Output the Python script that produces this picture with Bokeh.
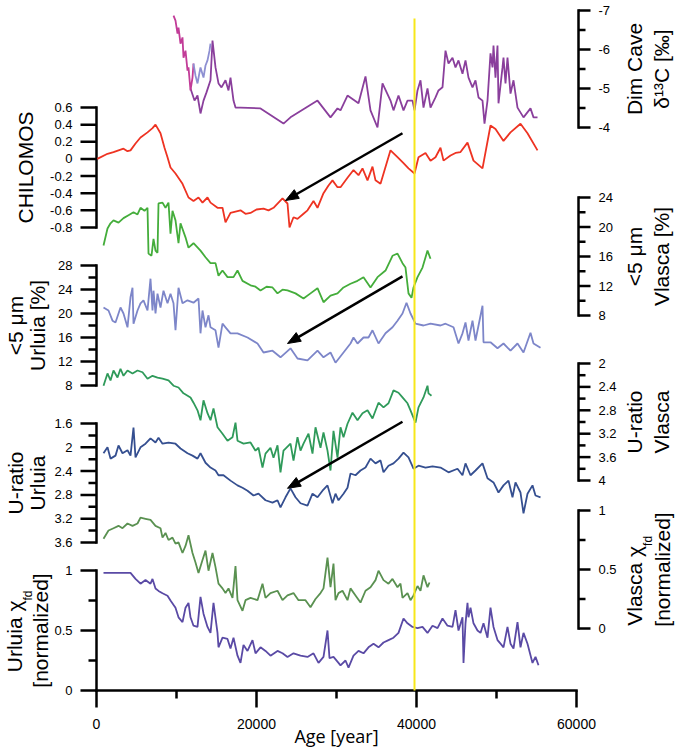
import math
from bokeh.plotting import figure
from bokeh.models import Range1d
from bokeh.core.properties import value
from bokeh.embed import file_html
from bokeh.resources import INLINE

# ---------------- data (age in years) ----------------
dim_mag_age = [9625, 9875, 10125, 10250, 10500, 10750, 10875, 11125, 11375, 11500, 11750, 12000, 12125]
dim_mag_val = [-6.87, -6.74, -6.41, -6.56, -6.15, -6.31, -5.79, -5.97, -5.46, -5.54, -4.95, -5.28, -5.64]

dim_lav_age = [12125, 12375, 12625, 12875, 13000, 13375, 13625, 13875, 14125, 14250]
dim_lav_val = [-5.64, -5.33, -5.13, -5.41, -5.54, -5.28, -5.59, -5.72, -5.97, -6.15]

dim_age = [11750, 12250, 12625, 13000, 13375, 13750, 14250, 14500, 14875, 15250, 15625, 16125, 16500, 16750,
           17125, 17375, 18000, 20500, 23375, 24250, 27625, 29250, 30125, 30500, 31375, 32750, 33625, 34250,
           35125, 35750, 36750, 37125, 37750, 38375, 38875, 39500, 39750, 40125, 40500, 40875, 41375, 41750,
           42375, 42750, 43250, 43625, 44000, 44500, 44875, 45250, 45750, 46125, 46500, 47000, 47375, 47750,
           48250, 48500, 48875, 49250, 49500, 49625, 49875, 50125, 50250, 50750, 50875, 51125, 51375, 51750,
           52125, 52625, 53375, 54250, 54625, 55125]
dim_val = [-5.0, -4.69, -4.82, -4.36, -4.69, -4.90, -5.21, -6.23, -5.54, -5.13, -5.03, -5.21, -4.95, -5.28,
           -4.69, -4.51, -4.51, -4.49, -4.10, -4.26, -4.69, -4.26, -4.49, -4.44, -4.82, -4.62, -5.31, -4.44,
           -4.0, -5.13, -4.69, -4.44, -4.82, -4.44, -4.69, -4.69, -4.44, -4.95, -5.21, -4.51, -5.0, -4.51,
           -4.77, -4.95, -5.03, -5.97, -5.64, -5.79, -5.54, -5.72, -5.38, -5.72, -5.28, -5.03, -5.21, -4.77,
           -4.69, -4.10, -4.69, -5.90, -5.54, -6.10, -5.28, -6.10, -4.62, -5.54, -5.79, -5.13, -5.79, -4.87,
           -5.21, -4.51, -4.26, -4.49, -4.26, -4.26]

chil_age = [100, 1375, 2125, 2750, 3375, 3875, 4250, 4875, 5500, 6375, 7000, 7375, 8000, 8500, 8875, 9250,
            9875, 10750, 11500, 12125, 12750, 13250, 13875, 14250, 15125, 15750, 16125, 16750, 18000, 18625,
            19250, 20000, 20875, 21500, 22125, 23250, 23875, 24125, 24625, 25125, 25875, 26375, 27125, 27625,
            28375, 29000, 29500, 30125, 30500, 31375, 32125, 32750, 33250, 33875, 34500, 34875, 35500, 36750,
            37625, 38375, 39000, 39750, 40250, 41125, 41750, 42375, 43000, 43375, 44250, 44875, 45500, 46375,
            47125, 48250, 49250, 49875, 50875, 51750, 53000, 53875, 55125]
chil_val = [0.0, 0.06, 0.08, 0.10, 0.12, 0.09, 0.10, 0.18, 0.25, 0.31, 0.36, 0.40, 0.30, 0.13, 0.02, -0.10,
            -0.17, -0.29, -0.45, -0.49, -0.45, -0.51, -0.45, -0.51, -0.57, -0.57, -0.74, -0.63, -0.60, -0.64,
            -0.63, -0.59, -0.58, -0.60, -0.57, -0.46, -0.52, -0.80, -0.68, -0.70, -0.64, -0.60, -0.49, -0.57,
            -0.40, -0.31, -0.25, -0.33, -0.33, -0.22, -0.13, -0.19, -0.11, -0.25, -0.09, -0.25, -0.29, 0.10,
            0.02, -0.05, -0.11, -0.17, 0.02, 0.07, -0.02, 0.02, 0.13, -0.02, 0.04, 0.07, 0.08, 0.19,
            -0.02, -0.11, 0.39, 0.35, 0.21, 0.31, 0.41, 0.30, 0.10]

vl5_age = [875, 1375, 1750, 2125, 2750, 3375, 4000, 4625, 5125, 5500, 6000, 6375, 6500, 6875, 7125, 7375, 7625,
           7750, 8250, 8625, 9000, 9250, 9500, 9875, 10250, 10500, 11125, 11500, 12125, 13000, 13625, 14250,
           14875, 15250, 15750, 16375, 17125, 17625, 18250, 19250, 19875, 20500, 21250, 22000, 22625, 23250,
           23875, 24875, 25875, 26750, 27625, 28375, 29250, 30125, 30875, 31750, 32625, 33375, 34250, 35125,
           36125, 37000, 37625, 38250, 38625, 39000, 39375, 39625, 40125, 40750, 41375, 41750]
vl5_val = [17.5, 19.8, 20.5, 20.9, 20.6, 21.2, 21.6, 22.0, 21.7, 22.6, 22.2, 22.6, 16.4, 16.1, 18.4, 16.8, 16.5,
           23.2, 23.3, 22.6, 23.3, 19.1, 22.2, 20.9, 17.8, 20.5, 18.6, 17.2, 17.8, 16.8, 15.9, 15.1,
           15.1, 13.4, 14.1, 13.2, 13.2, 14.1, 12.7, 12.1, 11.9, 11.4, 11.9, 11.8, 11.0, 11.5,
           11.4, 11.0, 10.3, 11.0, 11.7, 9.8, 10.7, 11.0, 11.8, 12.3, 12.7, 13.2, 11.8, 13.2,
           14.1, 16.1, 16.4, 15.1, 14.5, 11.0, 10.4, 11.8, 13.2, 14.5, 16.8, 15.7]

ur5_age = [875, 1500, 2000, 2375, 3000, 3375, 3875, 4250, 4500, 4625, 5125, 5500, 5875, 6375, 6750, 7000, 7125,
           7375, 7625, 8000, 8375, 8875, 9250, 9625, 9875, 10250, 10750, 11375, 12125, 12750, 13000, 13250,
           13625, 14000, 14250, 14875, 15250, 15750, 16125, 16750, 17625, 18875, 20125, 20875, 22000, 23000,
           24250, 25125, 26375, 27625, 28375, 29250, 29875, 30875, 31750, 32125, 32625, 33375, 34000, 34500,
           35250, 36125, 37000, 37625, 38250, 38750, 39250, 39875, 40875, 41750, 43000, 43625, 44625, 45250,
           45750, 46125, 46500, 47000, 47375, 48250, 48375, 49250, 50125, 50875, 51750, 52625, 53375, 54250,
           54625, 55500]
ur5_val = [21.0, 20.5, 18.8, 18.5, 21.0, 20.0, 17.7, 22.7, 24.3, 18.3, 20.5, 21.7, 22.2, 20.5, 25.8, 20.5, 23.8,
           20.0, 23.3, 21.0, 23.8, 21.7, 23.3, 21.7, 17.2, 24.3, 21.7, 22.2, 21.8, 22.5, 16.7, 20.5,
           17.7, 19.7, 17.7, 17.2, 14.3, 18.3, 17.7, 16.7, 16.7, 16.0, 15.0, 13.5, 13.8, 12.7,
           14.2, 12.5, 12.2, 13.8, 12.7, 13.5, 11.8, 13.5, 15.0, 16.0, 15.0, 16.0, 16.0, 17.2,
           15.0, 16.7, 17.7, 18.8, 20.0, 21.8, 20.0, 18.3, 18.0, 18.3, 18.0, 18.3, 17.7, 15.0,
           16.7, 18.5, 15.5, 18.8, 15.5, 21.3, 15.2, 15.2, 14.2, 15.0, 13.8, 15.0, 13.5, 16.8,
           15.0, 14.3]

uv_age = [875, 1375, 1750, 2125, 2625, 3000, 3375, 3875, 4500, 5125, 5750, 6375, 7000, 7625, 8250, 9000, 9625,
          10250, 10875, 11750, 12125, 12625, 13000, 13375, 13875, 14250, 14625, 15125, 15750, 16375, 17000,
          17375, 17625, 18375, 19250, 19875, 20250, 20750, 21125, 21750, 22125, 22625, 23000, 23375, 24250,
          24625, 25125, 25500, 25875, 26500, 27000, 27375, 28000, 28375, 28875, 29250, 29625, 30125, 30500,
          30875, 31375, 32000, 32625, 33250, 33875, 34500, 35250, 35875, 36500, 37125, 37750, 38250, 38875,
          39250, 39875, 40250, 40875, 41375, 41500, 41875]
uv_val = [2.38, 2.17, 2.29, 2.12, 2.24, 2.09, 2.21, 2.12, 2.17, 2.12, 2.15, 2.26, 2.21, 2.24, 2.26, 2.29, 2.38,
          2.41, 2.51, 2.58, 2.67, 2.80, 2.97, 2.63, 2.85, 2.97, 2.77, 3.09, 3.20, 3.32, 3.26,
          3.01, 3.32, 3.37, 3.35, 3.49, 3.44, 3.78, 3.54, 3.44, 3.61, 3.40, 3.86, 3.49, 3.37,
          3.66, 3.26, 3.49, 3.37, 3.20, 3.54, 3.09, 3.44, 3.18, 3.49, 3.83, 3.15, 3.61, 3.09,
          3.26, 3.03, 2.84, 2.97, 2.85, 2.80, 2.94, 2.67, 2.75, 2.68, 2.46, 2.50, 2.58, 2.68,
          2.80, 3.01, 2.75, 2.58, 2.38, 2.51, 2.55]

uu_age = [875, 1375, 1750, 2375, 2750, 3250, 3875, 4250, 4625, 4875, 5500, 6125, 6750, 7375, 7750, 8250, 9000,
          9875, 10500, 11375, 12000, 12625, 13000, 13625, 14250, 14875, 15250, 15875, 16750, 17625, 18250,
          18875, 19625, 20250, 21125, 22000, 22625, 23000, 23625, 24250, 24875, 25500, 26375, 27000, 27625,
          28250, 28875, 29500, 29875, 30250, 30875, 31375, 31750, 32375, 33000, 33625, 34250, 34875, 35500,
          35875, 36500, 37125, 37750, 38375, 39000, 39625, 40250, 41125, 42000, 43000, 44000, 45125, 45750,
          46125, 46750, 47375, 48250, 48875, 49625, 50250, 50875, 51500, 52000, 52375, 53000, 53375, 53875,
          54500, 54875, 55500]
uu_val = [2.10, 2.00, 2.19, 2.14, 1.97, 2.10, 2.05, 2.14, 1.67, 2.17, 2.00, 1.94, 1.85, 1.92, 1.84, 1.94, 1.92,
          1.94, 2.02, 2.10, 2.14, 2.19, 2.10, 2.26, 2.34, 2.39, 2.47, 2.47, 2.56, 2.64, 2.68,
          2.73, 2.81, 2.78, 2.89, 2.93, 2.89, 3.01, 2.84, 2.69, 2.84, 2.94, 2.98, 2.78, 2.84,
          2.73, 2.64, 2.94, 2.78, 2.89, 2.78, 2.68, 2.44, 2.47, 2.39, 2.34, 2.19, 2.27, 2.22,
          2.42, 2.31, 2.27, 2.19, 2.09, 2.17, 2.36, 2.31, 2.34, 2.32, 2.34, 2.42, 2.36, 2.47,
          2.27, 2.47, 2.39, 2.27, 2.52, 2.59, 2.76, 2.64, 2.56, 2.84, 2.59, 2.76, 3.11, 2.78,
          2.64, 2.81, 2.84]

vx_age = [875, 1500, 2125, 2750, 3250, 3875, 4500, 5125, 5500, 6125, 6750, 7375, 8000, 8250, 8625, 9000, 9500,
          9875, 10250, 10750, 11125, 11500, 12000, 12375, 12750, 13250, 13625, 14000, 14500, 14875, 15250,
          15750, 16125, 16500, 17000, 17375, 17625, 18250, 18625, 19250, 20125, 20750, 21125, 21750, 22625,
          23250, 23875, 24625, 25250, 26125, 26750, 27375, 28000, 28375, 28875, 29250, 29625, 29875, 30250,
          30750, 31375, 31750, 32375, 33000, 33625, 34250, 34875, 35250, 35875, 36500, 37000, 37625, 38000,
          38250, 38875, 39250, 39625, 40125, 40500, 40875, 41375, 41625]
vx_val = [0.76, 0.83, 0.85, 0.87, 0.85, 0.89, 0.87, 0.89, 0.94, 0.93, 0.92, 0.87, 0.85, 0.77, 0.81, 0.75, 0.77,
          0.72, 0.73, 0.64, 0.70, 0.79, 0.64, 0.56, 0.47, 0.58, 0.66, 0.49, 0.64, 0.52, 0.38,
          0.34, 0.30, 0.34, 0.26, 0.53, 0.24, 0.15, 0.24, 0.26, 0.24, 0.38, 0.26, 0.30, 0.32,
          0.24, 0.28, 0.30, 0.24, 0.24, 0.18, 0.25, 0.30, 0.34, 0.60, 0.35, 0.55, 0.24, 0.30,
          0.32, 0.24, 0.34, 0.28, 0.22, 0.32, 0.35, 0.41, 0.49, 0.41, 0.38, 0.42, 0.35, 0.38,
          0.26, 0.30, 0.24, 0.28, 0.36, 0.32, 0.45, 0.35, 0.39]

ux_age = [875, 1750, 2375, 3000, 3625, 4250, 4875, 5500, 6125, 6750, 7000, 7375, 7750, 8250, 8875, 9250, 9875,
          10250, 10750, 11125, 11500, 11750, 12125, 12625, 13000, 13375, 13875, 14250, 14625, 15125, 15250,
          15750, 16375, 16750, 17125, 17625, 18000, 18375, 18875, 19500, 19875, 20500, 21125, 21750, 22625,
          23250, 23875, 24625, 25500, 26375, 27125, 27750, 28375, 28875, 29125, 29625, 30250, 30500, 31125,
          31500, 32125, 32750, 33375, 34000, 34625, 35250, 35875, 36500, 37125, 37750, 38375, 38875, 39500,
          40125, 40750, 41375, 42000, 42625, 43250, 43875, 44500, 44875, 45250, 45750, 45875, 46125, 46375,
          46500, 46750, 47125, 47625, 48000, 48375, 48875, 49250, 49625, 50125, 50500, 50875, 51375, 51750,
          52125, 52625, 53000, 53375, 53875, 54500, 54875, 55250]
ux_val = [0.98, 0.98, 0.98, 0.98, 0.98, 0.98, 0.93, 0.89, 0.92, 0.89, 0.93, 0.85, 0.83, 0.81, 0.79, 0.75, 0.69,
          0.61, 0.57, 0.69, 0.73, 0.61, 0.54, 0.53, 0.78, 0.64, 0.53, 0.48, 0.73, 0.48, 0.36,
          0.44, 0.43, 0.35, 0.44, 0.29, 0.23, 0.38, 0.33, 0.42, 0.31, 0.36, 0.33, 0.29, 0.33,
          0.31, 0.28, 0.31, 0.29, 0.28, 0.31, 0.23, 0.28, 0.50, 0.27, 0.28, 0.23, 0.21, 0.25,
          0.19, 0.29, 0.33, 0.31, 0.36, 0.39, 0.36, 0.40, 0.42, 0.44, 0.48, 0.60, 0.56, 0.53,
          0.52, 0.53, 0.48, 0.54, 0.52, 0.60, 0.54, 0.53, 0.67, 0.50, 0.61, 0.23, 0.56, 0.73,
          0.61, 0.69, 0.56, 0.50, 0.48, 0.56, 0.44, 0.69, 0.53, 0.42, 0.39, 0.36, 0.53, 0.39,
          0.35, 0.57, 0.36, 0.48, 0.39, 0.23, 0.28, 0.21]

marker_age = 39750

# arrows: (range, age_start, value_start, age_end, value_end)
arrows = [("chil", 38250, 0.30, 23625, -0.485),
          ("ur5", 38250, 26.2, 23875, 15.0),
          ("uu", 38250, 1.57, 23875, 2.69)]

x_ticks = [0, 20000, 40000, 60000]
x_minor = [10000, 30000, 50000]
x_label = "Age [year]"

# ---------------- layout helpers (page pixels) ----------------
FONT = "Liberation Sans"
W, H = 675, 750
AX_LEFT, AX_RIGHT = 96, 576          # page x of age 0 and age 60000
AX_RIGHT_LINE = 578                  # page x of the right-hand value axes
AX_BOTTOM = 690                      # page y of the age axis
YEARS_PER_PX = 60000.0 / (AX_RIGHT - AX_LEFT)
TICK_W = 2.5

def px_to_age(px):
    return (px - AX_LEFT) * YEARS_PER_PX

def age_to_px(age):
    return AX_LEFT + age / YEARS_PER_PX

def py(page_y):                      # page y -> default (pixel) range value
    return H - page_y

def make_range(v1, y1, v2, y2):
    s = (v2 - v1) / (y2 - y1)
    return Range1d(start=v1 + s * (H - y1), end=v1 + s * (0 - y1))

# name: (tick a, px a, tick b, px b, major ticks, minor ticks, side, title lines, title centre value)
axes = {
    "dim":  (-7, 10, -4, 127, [-7, -6, -5, -4], [-6.5, -5.5, -4.5], "right", ["Dim Cave", "δ¹³C [‰]"], -5.5),
    "chil": (0.6, 107, -0.8, 227, [0.6, 0.4, 0.2, 0, -0.2, -0.4, -0.6, -0.8], [], "left", ["CHILOMOS"], -0.1),
    "vl5":  (24, 197, 8, 315, [24, 20, 16, 12, 8], [22, 18, 14, 10], "right", ["<5 μm", "Vlasca [%]"], 16),
    "ur5":  (28, 265, 8, 385, [28, 24, 20, 16, 12, 8], [26, 22, 18, 14, 10], "left", ["<5 μm", "Urluia [%]"], 18),
    "uv":   (2, 363, 4, 480, [2, 2.4, 2.8, 3.2, 3.6, 4], [2.2, 2.6, 3.0, 3.4, 3.8], "right", ["U-ratio", "Vlasca"], 3.0),
    "uu":   (1.6, 423, 3.6, 542, [1.6, 2, 2.4, 2.8, 3.2, 3.6], [1.8, 2.2, 2.6, 3.0, 3.4], "left", ["U-ratio", "Urluia"], 2.6),
    "vx":   (1, 510, 0, 628, [1, 0.5, 0], [0.75, 0.25], "right", None, 0.5),
    "ux":   (1, 570, 0, 690, [1, 0.5, 0], [0.75, 0.25], "left", None, 0.5),
}

def value_to_page_y(name, v):
    va, ya, vb, yb = axes[name][:4]
    return ya + (v - va) * (yb - ya) / (vb - va)

p = figure(width=W, height=H, min_border=0,
           x_range=Range1d(px_to_age(0), px_to_age(W)), y_range=Range1d(0, H),
           x_axis_location=None, y_axis_location=None,
           output_backend="svg", toolbar_location=None)
p.outline_line_color = None
p.xgrid.grid_line_color = None
p.ygrid.grid_line_color = None

p.extra_y_ranges = {name: make_range(va, ya, vb, yb) for name, (va, ya, vb, yb, *_r) in axes.items()}

def txt(x, y, text, size, align="center", baseline="middle", angle=0.0, y_range_name="default", font=FONT):
    p.text(x=x, y=y, text=text, y_range_name=y_range_name, angle=angle,
           text_align=align, text_baseline=baseline,
           text_font=value(font), text_font_size=value(size), text_color="black")

def ticks(x0, x1, y0, y1, y_range_name="default", cap="butt"):
    p.segment(x0=x0, x1=x1, y0=y0, y1=y1, y_range_name=y_range_name,
              line_color="black", line_width=TICK_W, line_cap=cap)

# ---------------- age axis (rule, ticks, labels) ----------------
n_maj, n_min = len(x_ticks), len(x_minor)
ticks([0], [60000], [py(AX_BOTTOM)], [py(AX_BOTTOM)], cap="square")
ticks(x_ticks, x_ticks, [py(AX_BOTTOM)] * n_maj, [py(AX_BOTTOM + 17)] * n_maj)
ticks(x_minor, x_minor, [py(AX_BOTTOM)] * n_min, [py(AX_BOTTOM + 8)] * n_min)
txt(x_ticks, [py(AX_BOTTOM + 33)] * n_maj, [f"{t:g}" for t in x_ticks], "14px")
txt([30000], [py(735)], [x_label], "18px", font="Open Sans")

# ---------------- value axes (rule, ticks, labels, titles) ----------------
for name, (va, ya, vb, yb, major, minor, side, title, centre) in axes.items():
    loc_px = AX_LEFT if side == "left" else AX_RIGHT_LINE
    major_len, minor_len = (16, 8) if side == "left" else (12, 7)
    sign = -1 if side == "left" else 1
    x_rule = px_to_age(loc_px)

    ticks([x_rule], [x_rule], [min(major)], [max(major)], name, cap="square")
    ticks([x_rule] * len(major), [px_to_age(loc_px + sign * major_len)] * len(major), major, major, name)
    if minor:
        ticks([x_rule] * len(minor), [px_to_age(loc_px + sign * minor_len)] * len(minor), minor, minor, name)

    label_x = px_to_age(loc_px + sign * (major_len + 8))
    txt([label_x] * len(major), major, [f"{t:g}" for t in major], "13px",
        align="right" if side == "left" else "left", y_range_name=name)

    if title is not None:
        if len(title) == 1:
            xs = [px_to_age(25)]
        elif side == "left":
            xs = [px_to_age(15), px_to_age(37)]
        else:
            xs = [px_to_age(634), px_to_age(661)]
        txt(xs, [centre] * len(xs), title, "21px", angle=math.pi / 2, y_range_name=name)

# chi titles with a small "fd" subscript
def chi_title(name, x_main, x_sub, x_second, y_end, first, second):
    txt([px_to_age(x_main)], [y_end], [first], "21px", align="right", angle=math.pi / 2, y_range_name=name)
    txt([px_to_age(x_sub)], [y_end], ["fd"], "12px", align="left", angle=math.pi / 2, y_range_name=name)
    txt([px_to_age(x_second)], [0.5], [second], "21px", angle=math.pi / 2, y_range_name=name)

chi_title("ux", 14, 27, 40, 0.75, "Urluia χ", "[normalized]")
chi_title("vx", 634, 647, 662, 0.70, "Vlasca χ", "[normalized]")

# ---------------- series ----------------
LW = 1.8
p.line(dim_age, dim_val, y_range_name="dim", line_color="#8a3f9c", line_width=LW)
p.line(dim_mag_age, dim_mag_val, y_range_name="dim", line_color="#c23c98", line_width=LW)
p.line(dim_lav_age, dim_lav_val, y_range_name="dim", line_color="#8e90d2", line_width=LW)
p.line(chil_age, chil_val, y_range_name="chil", line_color="#ee3322", line_width=LW)
p.line(vl5_age, vl5_val, y_range_name="vl5", line_color="#44ad3b", line_width=LW)
p.line(ur5_age, ur5_val, y_range_name="ur5", line_color="#7d86c9", line_width=LW)
p.line(uv_age, uv_val, y_range_name="uv", line_color="#2f9a5a", line_width=LW)
p.line(uu_age, uu_val, y_range_name="uu", line_color="#354f90", line_width=LW)
p.line(vx_age, vx_val, y_range_name="vx", line_color="#5a9151", line_width=LW)
p.line(ux_age, ux_val, y_range_name="ux", line_color="#5a4aa5", line_width=LW)

# yellow marker line from the top of the chart down to the age axis
p.segment(x0=[marker_age], y0=[py(AX_BOTTOM)], x1=[marker_age], y1=[py(18)],
          line_color="#f7e71a", line_width=2)

# ---------------- arrows: shaft (segment) + head (triangle patch) ----------------
HEAD_L, HEAD_W = 13, 10
head_xs, head_ys = [], []
for rname, x0, y0, x1, y1 in arrows:
    sx0, sy0 = age_to_px(x0), value_to_page_y(rname, y0)
    sx1, sy1 = age_to_px(x1), value_to_page_y(rname, y1)
    dx, dy = sx1 - sx0, sy1 - sy0
    length = math.hypot(dx, dy)
    ux_, uy_ = dx / length, dy / length
    nx_, ny_ = -uy_, ux_
    bx, by = sx1 - ux_ * HEAD_L, sy1 - uy_ * HEAD_L
    p.segment(x0=[x0], y0=[py(sy0)], x1=[px_to_age(bx + ux_ * 2)], y1=[py(by + uy_ * 2)],
              line_color="black", line_width=2.5)
    corners = [(sx1, sy1), (bx + nx_ * HEAD_W / 2, by + ny_ * HEAD_W / 2),
               (bx - nx_ * HEAD_W / 2, by - ny_ * HEAD_W / 2)]
    head_xs.append([px_to_age(cx) for cx, _ in corners])
    head_ys.append([py(cy) for _, cy in corners])
p.patches(xs=head_xs, ys=head_ys, fill_color="black", line_color="black", line_width=1)

open("out.html", "w").write(file_html(p, INLINE))
